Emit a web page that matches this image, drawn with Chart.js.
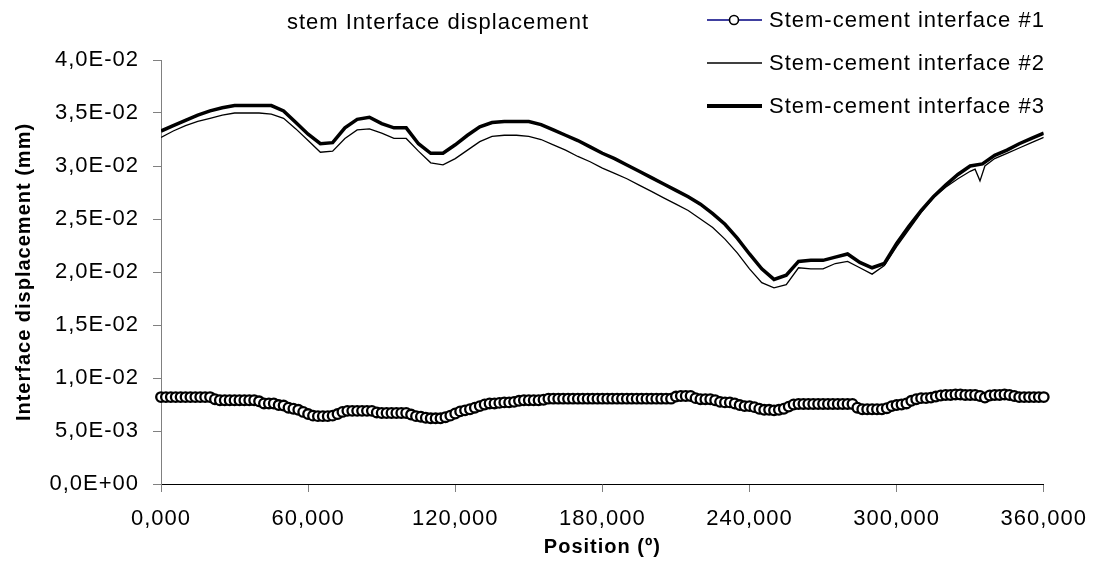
<!DOCTYPE html>
<html>
<head>
<meta charset="utf-8">
<script src="https://cdn.jsdelivr.net/npm/chart.js@4.4.1/dist/chart.umd.min.js"></script>
<style>
html,body{margin:0;padding:0;background:#fff;}
#wrap{width:1101px;height:569px;}
</style>
</head>
<body>
<div id="wrap"><canvas id="c" width="1101" height="569"></canvas></div>
<script>
// ---- Data ----
const chartTitle = 'stem Interface displacement';
const xAxisTitle = 'Position (º)';
const yAxisTitle = 'Interface displacement (mm)';
const seriesNames = ['Stem-cement interface #1', 'Stem-cement interface #2', 'Stem-cement interface #3'];

const pos1 = [0,2,4,6,8,10,12,14,16,18,20,22,24,26,28,30,32,34,36,38,40,42,44,46,48,50,52,54,56,58,60,62,64,66,68,70,72,74,76,78,80,82,84,86,88,90,92,94,96,98,100,102,104,106,108,110,112,114,116,118,120,122,124,126,128,130,132,134,136,138,140,142,144,146,148,150,152,154,156,158,160,162,164,166,168,170,172,174,176,178,180,182,184,186,188,190,192,194,196,198,200,202,204,206,208,210,212,214,216,218,220,222,224,226,228,230,232,234,236,238,240,242,244,246,248,250,252,254,256,258,260,262,264,266,268,270,272,274,276,278,280,282,284,286,288,290,292,294,296,298,300,302,304,306,308,310,312,314,316,318,320,322,324,326,328,330,332,334,336,338,340,342,344,346,348,350,352,354,356,358,360];
const val1 = [0.0082,0.0082,0.0082,0.0082,0.0082,0.0082,0.0082,0.0082,0.0082,0.0082,0.0082,
0.0080,0.0079,0.0079,0.0079,0.0079,0.0079,0.0079,0.0079,0.0079,0.0078,
0.0076,0.0076,0.0076,0.00745,0.0074,0.0072,0.0071,0.0070,0.0068,
0.0066,0.00645,0.0064,0.0064,0.0064,0.00645,0.0066,0.0068,0.0069,0.0069,0.0069,0.0069,0.0069,0.0069,
0.00675,0.0067,0.0067,0.0067,0.0067,0.0067,0.0067,0.00655,0.0064,0.00635,0.00625,0.0062,0.0062,0.0062,0.0063,0.00645,0.00665,
0.00685,0.00695,0.00705,0.0072,0.00735,0.0075,0.0076,0.0076,0.00765,0.0077,0.0077,0.00775,0.00785,0.0079,0.0079,0.0079,0.0079,0.00795,0.00805,
0.00805,0.00805,0.00805,0.00805,0.00805,0.00805,0.00805,0.00805,0.00805,0.00805,0.00805,0.00805,0.00805,0.00805,0.00805,0.00805,0.00805,0.00805,0.00805,0.00805,0.00805,0.00805,0.00805,0.00805,0.00805,
0.00825,0.0083,0.0083,0.0083,0.0081,0.0080,0.0080,0.0080,0.0079,0.00775,0.0077,0.0077,0.0076,0.00745,0.00735,0.00735,0.00725,0.0071,0.0070,0.0070,0.00695,0.0070,0.0071,0.0073,0.0075,0.00755,
0.00755,0.00755,0.00755,0.00755,0.00755,0.00755,0.00755,0.00755,0.00755,0.00755,0.00755,
0.0072,0.00705,0.00705,0.00705,0.00705,0.00705,0.00715,0.00735,0.00745,0.0075,0.0076,0.00785,0.0080,0.0081,0.0081,0.00815,0.00825,0.00835,0.0084,0.0084,0.00845,0.00845,0.0084,0.0084,0.0084,0.0083,0.00815,0.00835,0.0084,0.0084,0.00845,0.0084,0.0083,0.0082,0.0082,0.0082,0.0082,0.0082,0.0082];

const pos2 = [0,5,10,15,20,25,30,35,40,45,50,55,60,65,70,75,80,85,90,95,100,105,110,115,120,125,130,135,140,145,150,155,160,165,170,175,180,185,190,195,200,205,210,215,220,225,230,235,240,245,250,255,260,265,270,275,280,285,290,295,300,305,310,315,320,325,330,332,334,336,340,345,350,355,360];
const val2 = [0.0327,0.0333,0.0338,0.0342,0.0345,0.0348,0.0350,0.0350,0.0350,0.0349,0.0345,0.0335,0.0324,0.0313,0.0314,0.0326,0.0334,0.0335,0.0331,0.0326,0.0326,0.0314,0.0303,0.0301,0.0307,0.0315,0.0323,0.0328,0.0329,0.0329,0.0328,0.0325,0.0320,0.0315,0.0309,0.0304,0.0298,0.0293,0.0288,0.0282,0.0276,0.0270,0.0264,0.0258,0.0250,0.0242,0.0231,0.0218,0.0203,0.0190,0.0185,0.0188,0.0204,0.0203,0.0203,0.0208,0.0210,0.0204,0.0198,0.0206,0.0224,0.0240,0.0256,0.0270,0.0280,0.0288,0.0295,0.0297,0.0286,0.0300,0.0307,0.0312,0.0317,0.0322,0.0327];

const pos3 = [0,5,10,15,20,25,30,35,40,45,50,55,60,65,70,75,80,85,90,95,100,105,110,115,120,125,130,135,140,145,150,155,160,165,170,175,180,185,190,195,200,205,210,215,220,225,230,235,240,245,250,255,260,265,270,275,280,285,290,295,300,305,310,315,320,325,330,335,340,345,350,355,360];
const val3 = [0.0333,0.0338,0.0343,0.0348,0.0352,0.0355,0.0357,0.0357,0.0357,0.0357,0.0352,0.0341,0.0330,0.0321,0.0322,0.0336,0.0344,0.0346,0.0340,0.0336,0.0336,0.0321,0.0312,0.0312,0.0320,0.0329,0.0337,0.0341,0.0342,0.0342,0.0342,0.0339,0.0334,0.0329,0.0324,0.0318,0.0312,0.0307,0.0301,0.0295,0.0289,0.0283,0.0277,0.0271,0.0264,0.0255,0.0245,0.0232,0.0217,0.0203,0.0193,0.0197,0.0210,0.0211,0.0211,0.0214,0.0217,0.0209,0.0204,0.0208,0.0227,0.0243,0.0258,0.0271,0.0282,0.0292,0.0300,0.0302,0.0310,0.0315,0.0321,0.0326,0.0331];

const xMin = 0, xMax = 360, xStep = 60;
const yMin = 0, yMax = 0.04, yStep = 0.005;

// ---- helpers ----
const pts = (xs, ys) => xs.map((x, i) => ({x: x, y: ys[i]}));
function fmtX(v){ return Number(v).toFixed(3).replace('.', ','); }
function fmtE(v){
  if (Math.abs(v) < 1e-12) return '0,0E+00';
  let e = Math.floor(Math.log10(Math.abs(v)) + 1e-9);
  let m = v / Math.pow(10, e);
  if (m.toFixed(1) === '10.0') { e++; m = v / Math.pow(10, e); }
  return m.toFixed(1).replace('.', ',') + 'E' + (e < 0 ? '-' : '+') + String(Math.abs(e)).padStart(2, '0');
}

const FONT = "'Liberation Sans', Arial, sans-serif";
const SPACING = '1px';

const deco = {
  id: 'deco',
  beforeLayout(chart){ chart.ctx.letterSpacing = SPACING; },
  beforeDraw(chart){ chart.ctx.letterSpacing = SPACING; },
  afterDraw(chart){
    const ctx = chart.ctx;
    ctx.save();
    ctx.letterSpacing = SPACING;
    ctx.fillStyle = '#000';
    ctx.font = '22px ' + FONT;
    ctx.textAlign = 'center';
    ctx.textBaseline = 'middle';
    ctx.fillText(chartTitle, 438, 23);
    // legend
    const rows = [20, 63, 106];
    const x0 = 707, x1 = 762, tx = 769;
    ctx.textAlign = 'left';
    rows.forEach((y, i) => {
      ctx.beginPath();
      ctx.moveTo(x0, y); ctx.lineTo(x1, y);
      if (i === 0) { ctx.strokeStyle = '#000080'; ctx.lineWidth = 1.5; }
      else if (i === 1) { ctx.strokeStyle = '#000'; ctx.lineWidth = 1.3; }
      else { ctx.strokeStyle = '#000'; ctx.lineWidth = 4; }
      ctx.stroke();
      if (i === 0) {
        ctx.beginPath();
        ctx.arc(734, y, 4.5, 0, Math.PI * 2);
        ctx.fillStyle = '#fff'; ctx.fill();
        ctx.strokeStyle = '#000'; ctx.lineWidth = 1.6; ctx.stroke();
      }
      ctx.fillStyle = '#000';
      ctx.fillText(seriesNames[i], tx, y + 1);
    });
    ctx.restore();
  }
};

new Chart(document.getElementById('c'), {
  type: 'line',
  data: {
    datasets: [
      { label: seriesNames[0], data: pts(pos1, val1), borderColor: '#000080', borderWidth: 1,
        pointRadius: 4.8, pointBorderWidth: 2.3, pointBackgroundColor: '#fff', pointBorderColor: '#000',
        clip: false, order: 0 },
      { label: seriesNames[1], data: pts(pos2, val2), borderColor: '#000', borderWidth: 1.3,
        pointRadius: 0, order: 1 },
      { label: seriesNames[2], data: pts(pos3, val3), borderColor: '#000', borderWidth: 3.5,
        pointRadius: 0, order: 2 }
    ]
  },
  options: {
    responsive: false,
    animation: false,
    events: [],
    layout: { padding: { left: 0, right: 49, top: 60, bottom: 0 } },
    elements: { line: { tension: 0 } },
    plugins: { legend: { display: false }, title: { display: false }, tooltip: { enabled: false } },
    scales: {
      x: {
        type: 'linear', min: xMin, max: xMax,
        afterFit(s){ s.height = 85; },
        ticks: { stepSize: xStep, callback: fmtX, color: '#000', padding: 14, maxRotation: 0,
                 font: { family: FONT, size: 22 } },
        grid: { drawOnChartArea: false, drawTicks: true, tickLength: 8, tickColor: '#808080', color: '#808080' },
        border: { display: true, color: '#000', width: 1 },
        title: { display: true, text: xAxisTitle, color: '#000', padding: { top: 10, bottom: 10 },
                 font: { family: FONT, size: 20, weight: 'bold' } }
      },
      y: {
        type: 'linear', min: yMin, max: yMax,
        afterFit(s){ s.width = 161; },
        ticks: { stepSize: yStep, callback: fmtE, color: '#000', padding: 14,
                 font: { family: FONT, size: 22 } },
        grid: { drawOnChartArea: false, drawTicks: true, tickLength: 8, tickColor: '#808080', color: '#808080' },
        border: { display: true, color: '#808080', width: 1 },
        title: { display: true, text: yAxisTitle, color: '#000', padding: { top: 12, bottom: 0 },
                 font: { family: FONT, size: 20, weight: 'bold' } }
      }
    }
  },
  plugins: [deco]
});
</script>
</body>
</html>
